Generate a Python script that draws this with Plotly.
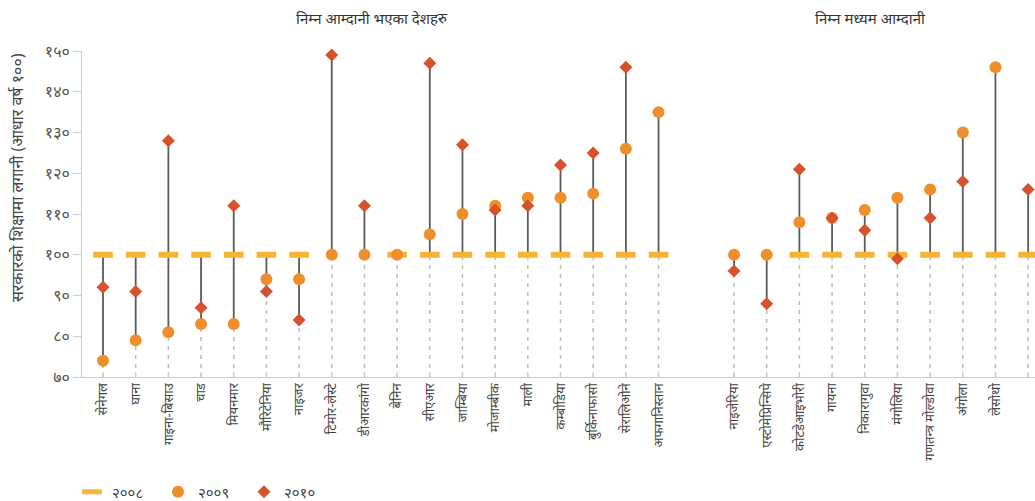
import plotly.graph_objects as go

low_income = ["सेनेगल", "घाना", "गाइना-बिसाउ", "चाड", "मियनमार", "मौरिटेनिया", "नाइजर",
              "टिमोर-लेस्टे", "डीआरकांगो", "बेनिन", "सीएआर", "जाम्बिया", "मोजाम्बीक",
              "माली", "कम्बोडिया", "बुर्किनाफासो", "सेरालिओने", "अफगानिस्तान"]
lower_middle = ["नाइजेरिया", "एस्टोमेप्रिन्सिपे", "कोटडेआइभोरी", "गायना", "निकारागुवा",
                "मंगोलिया", "गणतन्त्र मोल्डोवा", "अंगोला", "लेसोथो", "कोंगो"]

v2008_low = [100, 100, 100, 100, 100, 100, 100, None, None, 100, 100, 100, 100, 100, 100, 100, 100, 100]
v2009_low = [74, 79, 81, 83, 83, 94, 94, 100, 100, 100, 105, 110, 112, 114, 114, 115, 126, 135]
v2010_low = [92, 91, 128, 87, 112, 91, 84, 149, 112, None, 147, 127, 111, 112, 122, 125, 146, None]

v2008_mid = [None, None, 100, 100, 100, 100, 100, 100, 100, 100]
v2009_mid = [100, 100, 108, 109, 111, 114, 116, 130, 146, None]
v2010_mid = [96, 88, 121, 109, 106, 99, 109, 118, None, 116]

y_ticks = [70, 80, 90, 100, 110, 120, 130, 140, 150]
series_names = ["२००८", "२००९", "२०१०"]
group_titles = ["निम्न आम्दानी भएका देशहरु", "निम्न मध्यम आम्दानी"]
y_title = "सरकारको शिक्षामा लगानी (आधार वर्ष १००)"

DEV = str.maketrans("0123456789", "०१२३४५६७८९")

GROUP_GAP = 1.31
names = low_income + lower_middle
xpos = list(range(len(low_income))) + [len(low_income) + GROUP_GAP + j for j in range(len(lower_middle))]
v08 = v2008_low + v2008_mid
v09 = v2009_low + v2009_mid
v10 = v2010_low + v2010_mid
ymin = y_ticks[0]

# stems
sx, sy, dx, dy = [], [], [], []
for x, a, b, c in zip(xpos, v08, v09, v10):
    vals = [v for v in (a, b, c) if v is not None]
    lo, hi = min(vals), max(vals)
    dx += [x, x, None]
    dy += [ymin, lo, None]
    if hi > lo:
        sx += [x, x, None]
        sy += [lo, hi, None]

W, H = 1035, 501
ML, MR, MT, MB = 82, 0, 51, 124
pw, ph = W - ML - MR, H - MT - MB

FONT = "Noto Sans, sans-serif"
fig = go.Figure()
fig.add_trace(go.Scatter(x=dx, y=dy, mode="lines", showlegend=False, hoverinfo="skip",
                         line=dict(color="#bdbdbd", width=1.5, dash="4px,5px")))
fig.add_trace(go.Scatter(x=sx, y=sy, mode="lines", showlegend=False, hoverinfo="skip",
                         line=dict(color="#5a5a5a", width=1.8)))
fig.add_trace(go.Scatter(x=xpos, y=v08, mode="markers", name=series_names[0], cliponaxis=False,
                         marker=dict(symbol="line-ew", size=14, color="#F8B334",
                                     line=dict(color="#F8B334", width=6))))
fig.add_trace(go.Scatter(x=xpos, y=v09, mode="markers", name=series_names[1], cliponaxis=False,
                         marker=dict(symbol="circle", size=12, color="#EF8F2C", line=dict(width=0))))
fig.add_trace(go.Scatter(x=xpos, y=v10, mode="markers", name=series_names[2], cliponaxis=False,
                         marker=dict(symbol="diamond", size=10, color="#D5522C", line=dict(width=0))))

fig.update_layout(
    width=W, height=H,
    margin=dict(l=ML, r=MR, t=MT, b=MB, autoexpand=False),
    plot_bgcolor="white", paper_bgcolor="white",
    font=dict(family=FONT, color="#444"),
    showlegend=True,
    legend=dict(orientation="h", x=-10 / pw, xanchor="left", y=-(492 - (H - MB)) / ph,
                yanchor="middle", font=dict(size=15, color="#444"), itemwidth=30,
                entrywidth=41, tracegroupgap=0),
    xaxis=dict(range=[-0.643, 28.52], tickvals=xpos, ticktext=names, tickangle=-90,
               ticks="inside", ticklen=5, tickcolor="#cccccc", showline=True, linecolor="#cccccc",
               showgrid=False, zeroline=False, automargin=False, tickfont=dict(size=13, color="#444")),
    yaxis=dict(range=[70, 150], tickvals=y_ticks, ticktext=[str(t).translate(DEV) for t in y_ticks],
               ticks="outside", ticklen=8, tickcolor="#cccccc", showline=True, linecolor="#cccccc",
               showgrid=False, zeroline=False, automargin=False, tickfont=dict(size=16, color="#555")),
    annotations=[
        dict(text=group_titles[0], x=8.22, y=1, xref="x", yref="paper", yanchor="middle",
             yshift=MT - 18, showarrow=False, font=dict(size=15, color="#333")),
        dict(text=group_titles[1], x=23.5, y=1, xref="x", yref="paper", yanchor="middle",
             yshift=MT - 18, showarrow=False, font=dict(size=15, color="#333")),
        dict(text=y_title, x=(17 - ML) / pw, y=(H - MB - 178) / ph, xref="paper", yref="paper",
             xanchor="center", yanchor="middle", textangle=-90,
             showarrow=False, font=dict(size=16, color="#444")),
    ],
)
fig.write_html("out.html", config={"displayModeBar": False},
               post_script="document.body.style.margin='0';")
